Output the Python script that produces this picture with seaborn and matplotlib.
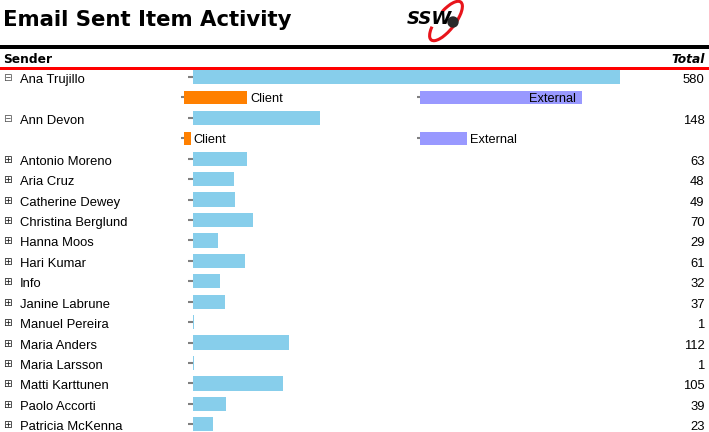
import matplotlib
matplotlib.use("Agg")
import matplotlib.pyplot as plt
import matplotlib.transforms as mtransforms
from matplotlib.patches import Rectangle, Arc, Circle
import pandas as pd
import seaborn as sns

# data
senders = ['Ana Trujillo', 'Ann Devon', 'Antonio Moreno', 'Aria Cruz', 'Catherine Dewey',
           'Christina Berglund', 'Hanna Moos', 'Hari Kumar', 'Info', 'Janine Labrune',
           'Manuel Pereira', 'Maria Anders', 'Maria Larsson', 'Matti Karttunen',
           'Paolo Accorti', 'Patricia McKenna']
totals = [580, 148, 63, 48, 49, 70, 29, 61, 32, 37, 1, 112, 1, 105, 39, 23]
expanded = ['Ana Trujillo', 'Ann Devon']
client = [74, 8]
external = [189, 55]

W, H = 709, 432
def fx(x):
    return x / W
def fy(y):
    return 1 - y / H

# one slot per row, expanded senders get an extra detail slot
slots = []
for s in senders:
    slots.append(s)
    if s in expanded:
        slots.append(s + ' detail')
pos = {s: i for i, s in enumerate(slots)}

main_df = pd.DataFrame({'slot': senders, 'total': totals})
detail_slots = [s + ' detail' for s in expanded]
client_df = pd.DataFrame({'slot': detail_slots, 'value': client})
external_df = pd.DataFrame({'slot': detail_slots, 'value': external})

sns.set_style('white')
plt.rcParams['font.family'] = ['Liberation Sans', 'DejaVu Sans']
plt.rcParams['text.color'] = 'black'

fig = plt.figure(figsize=(W / 100, H / 100), dpi=100)

row0, step = 77.0, 20.43
top = row0 - step / 2
bottom = row0 + (len(slots) - 0.5) * step
xmax = 499

def make_ax(left):
    a = fig.add_axes([fx(left), fy(bottom), 427 / W, (bottom - top) / H])
    a.patch.set_alpha(0)
    return a

def tidy(a, ticks, length):
    a.set_xlim(0, xmax)
    a.set_ylim(len(slots) - 0.5, -0.5)
    sns.despine(ax=a, left=True, bottom=True)
    a.set_xlabel('')
    a.set_ylabel('')
    a.set_xticks([])
    a.set_yticks([pos[s] for s in ticks])
    a.set_yticklabels([])
    a.tick_params(axis='y', length=length, width=1.5, color='#808080', left=True)

ax = make_ax(193)
sns.barplot(data=main_df, x='total', y='slot', order=slots, orient='h', color='#87CEEB',
            saturation=1, width=0.7, errorbar=None, linewidth=0, ax=ax)
tidy(ax, senders, 3.6)

ax_c = make_ax(184)
sns.barplot(data=client_df, x='value', y='slot', order=slots, orient='h', color='#FF8000',
            saturation=1, width=0.65, errorbar=None, linewidth=0, ax=ax_c)
tidy(ax_c, detail_slots, 2.2)

ax_e = make_ax(420)
sns.barplot(data=external_df, x='value', y='slot', order=slots, orient='h', color='#9999FF',
            saturation=1, width=0.65, errorbar=None, linewidth=0, ax=ax_e)
tidy(ax_e, detail_slots, 2.2)

# detail labels
for a, df, name in [(ax_c, client_df, 'Client'), (ax_e, external_df, 'External')]:
    for s, v in zip(df['slot'], df['value']):
        if v > 100:
            a.annotate(name, (v, pos[s] + 0.08), xytext=(-4, 0), textcoords='offset points',
                       ha='right', va='center', fontsize=9.2, color='black')
        else:
            a.annotate(name, (v, pos[s] + 0.08), xytext=(2, 0), textcoords='offset points',
                       ha='left', va='center', fontsize=9.2, color='black')

# sender names, expand icons and totals
tr = mtransforms.blended_transform_factory(fig.transFigure, ax.transData)
for s, t in zip(senders, totals):
    y = pos[s] + 0.29
    ax.text(fx(19.5), y, s, transform=tr, ha='left', va='baseline', fontsize=9.4,
            color='black', clip_on=False)
    ax.text(fx(704.5), y, str(t), transform=tr, ha='right', va='baseline', fontsize=9.4,
            color='black', clip_on=False)
    icon = '\u229f' if s in expanded else '\u229e'
    ax.text(fx(7), pos[s] + 0.05, icon, transform=tr, ha='center', va='center',
            fontsize=7.5, color='#555555' if s in expanded else '#222222',
            family='DejaVu Sans', clip_on=False)

# header
fig.text(fx(3), fy(25.7), 'Email Sent Item Activity', ha='left', va='baseline',
         fontsize=15.3, fontweight='bold', family='DejaVu Sans', color='black')
fig.text(fx(3), fy(62.7), 'Sender', ha='left', va='baseline', fontsize=8.8,
         fontweight='bold', family='DejaVu Sans', color='black')
fig.text(fx(705), fy(62.7), 'Total', ha='right', va='baseline', fontsize=8.8,
         fontweight='bold', fontstyle='italic', family='DejaVu Sans', color='black')
fig.add_artist(Rectangle((0, fy(49)), 1, 4 / H, transform=fig.transFigure,
                         color='black', lw=0, zorder=5))
fig.add_artist(Rectangle((0, fy(69.6)), 1, 2.8 / H, transform=fig.transFigure,
                         color='#FF0000', lw=0, zorder=5))

# logo
lg = fig.add_axes([fx(400), fy(46), 70 / W, 46 / H])
lg.set_xlim(0, 70)
lg.set_ylim(46, 0)
lg.axis('off')
lg.add_patch(Arc((46, 21), 18, 48, angle=38, theta1=-150, theta2=120, color='#E8141B', lw=2.2))
lg.add_patch(Circle((53, 22), 5, color='#2a2a2a', zorder=4))
lg.text(7, 19, 'SSW', ha='left', va='center', fontsize=13, fontweight='heavy',
        fontstyle='italic', family='DejaVu Sans', color='black', zorder=5)

fig.savefig('out.png', dpi=100)
